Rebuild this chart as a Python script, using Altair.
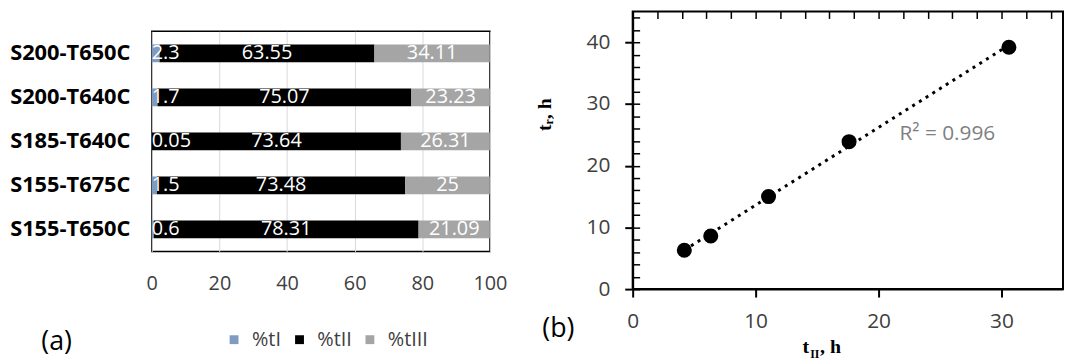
import altair as alt
import pandas as pd

FONT = "Open Sans"
SERIF = "Liberation Serif"

# ---------------- data (a) ----------------
samples = ["S200-T650C", "S200-T640C", "S185-T640C", "S155-T675C", "S155-T650C"]
pct_tI = [2.3, 1.7, 0.05, 1.5, 0.6]
pct_tII = [63.55, 75.07, 73.64, 73.48, 78.31]
pct_tIII = [34.11, 23.23, 26.31, 25, 21.09]
phases = ["%tI", "%tII", "%tIII"]
phase_colors = ["#7f9cc0", "#000000", "#a5a5a5"]
x_ticks_a = [0, 20, 40, 60, 80, 100]

# ---------------- data (b) ----------------
t_II = [4.2, 6.35, 11.05, 17.6, 30.6]
t_r = [6.3, 8.6, 15.0, 23.9, 39.2]
x_ticks_b = list(range(0, 35, 2))
y_ticks_b = list(range(0, 46, 2))
r2_text = ["R² = 0.996"]
panel_labels = ["(a)", "(b)"]

rows = []
for s, a, b, c in zip(samples, pct_tI, pct_tII, pct_tIII):
    for k, (p, v) in enumerate(zip(phases, (a, b, c))):
        rows.append(dict(sample=s, phase=p, value=v, order=k, label=f"{v:g}"))
df_a = pd.DataFrame(rows)

W_A, H_A = 341, 222
W_B, H_B = 434, 280

base_a = alt.Chart(df_a)
bars = base_a.mark_bar(size=18).encode(
    x=alt.X("value:Q", stack="zero", scale=alt.Scale(domain=[0, 100], nice=False),
            axis=alt.Axis(values=x_ticks_a, grid=True, gridColor="#d9d9d9", gridWidth=1,
                          ticks=False, tickSize=0, domain=False, labelFontSize=20,
                          labelFont=FONT, labelColor="#404040", labelPadding=22,
                          labelFlush=False, title=None)),
    y=alt.Y("sample:N", sort=samples,
            axis=alt.Axis(title=None, ticks=False, tickSize=0, domain=False, labelFont=FONT,
                          labelFontWeight="bold", labelFontSize=22, labelColor="#000000",
                          labelPadding=22, labelLimit=300)),
    color=alt.Color("phase:N", scale=alt.Scale(domain=phases, range=phase_colors),
                    legend=alt.Legend(title=None, orient="none", direction="horizontal",
                                      legendX=73, legendY=321, symbolType="square",
                                      symbolSize=80, labelFont=FONT, labelFontSize=20,
                                      labelColor="#404040", labelOffset=8, columnPadding=8)),
    order=alt.Order("order:Q"),
)

stacked = base_a.transform_stack(
    stack="value", groupby=["sample"], sort=[alt.SortField("order")], as_=["x0", "x1"]
).transform_calculate(mid="(datum.x0 + datum.x1) / 2")

lab_first = stacked.transform_filter("datum.order == 0").mark_text(
    align="left", baseline="middle", color="white", font=FONT, fontSize=20
).encode(x=alt.X("x0:Q"), y=alt.Y("sample:N", sort=samples), text="label:N")

lab_rest = stacked.transform_filter("datum.order > 0").mark_text(
    align="center", baseline="middle", color="white", font=FONT, fontSize=20
).encode(x=alt.X("mid:Q"), y=alt.Y("sample:N", sort=samples), text="label:N")

tag_a = alt.Chart(pd.DataFrame({"t": [panel_labels[0]]})).mark_text(
    align="center", baseline="middle", font=FONT, fontSize=27, color="#000000"
).encode(x=alt.value(-96), y=alt.value(313), text="t:N")

left = alt.layer(bars, lab_first, lab_rest, tag_a).properties(
    width=W_A, height=H_A,
    view=alt.ViewBackground(stroke="#000000", strokeWidth=1.5),
)

spacer = alt.Chart(pd.DataFrame({"t": [""]})).mark_text(opacity=0, fontSize=1).encode(
    text="t:N", x=alt.value(0), y=alt.value(0.5)
).properties(width=W_A, height=1, view=alt.ViewBackground(strokeOpacity=0))

left_col = alt.vconcat(spacer, left, spacing=18)

# ---------------- right chart ----------------
df_b = pd.DataFrame({"t_II": t_II, "t_r": t_r})
xs = alt.Scale(domain=[0, 35], nice=False)
ys = alt.Scale(domain=[0, 45], nice=False)

is_major = "datum.value % 10 === 0"
major_opacity = {"condition": {"test": is_major, "value": 1}, "value": 0}
major_font = {"condition": {"test": is_major, "value": 21}, "value": 1}


def frame_axis(orient, pad, vals):
    return alt.Axis(
        orient=orient, values=vals, tickSize=8, tickWidth=2, tickColor="#000000",
        tickOpacity=major_opacity,
        labelExpr=is_major + " ? datum.label : ''", labelOverlap=False,
        labelFlush=False, domainColor="#000000", domainWidth=2, labelFont=FONT,
        labelFontSize=major_font, labelColor="#404040", labelPadding=pad,
        grid=True, gridColor="#000000", gridWidth=1.5, gridOpacity=1,
        gridDash=[7, 3000], title=None,
    )


ax_x = frame_axis("bottom", 14, x_ticks_b)
ax_y = frame_axis("left", 15, y_ticks_b)

pts = alt.Chart(df_b).mark_circle(size=230, color="#000000", opacity=1).encode(
    x=alt.X("t_II:Q", scale=xs, axis=ax_x),
    y=alt.Y("t_r:Q", scale=ys, axis=ax_y),
)

trend = alt.Chart(df_b).transform_regression("t_II", "t_r").mark_line(
    color="#000000", strokeDash=[3, 5], strokeWidth=3
).encode(
    x=alt.X("t_II:Q", scale=xs, axis=ax_x),
    y=alt.Y("t_r:Q", scale=ys, axis=ax_y),
)

r2 = alt.Chart(pd.DataFrame({"t": r2_text})).mark_text(
    align="left", baseline="middle", font=FONT, fontSize=21, color="#7f7f7f"
).encode(x=alt.value(269), y=alt.value(124), text="t:N")

ytitle = alt.Chart(pd.DataFrame({"t": ["tᵣ, h"]})).mark_text(
    align="center", baseline="middle", font=SERIF, fontSize=20, fontWeight="bold",
    angle=270, color="#000000"
).encode(x=alt.value(-88), y=alt.value(104), text="t:N")

xt_main = alt.Chart(pd.DataFrame({"t": ["t"]})).mark_text(
    align="right", baseline="alphabetic", font=SERIF, fontSize=20, fontWeight="bold",
    color="#000000"
).encode(x=alt.value(178), y=alt.value(344), text="t:N")
xt_sub = alt.Chart(pd.DataFrame({"t": ["II"]})).mark_text(
    align="left", baseline="alphabetic", font=SERIF, fontSize=12, fontWeight="bold",
    color="#000000"
).encode(x=alt.value(179), y=alt.value(349), text="t:N")
xt_rest = alt.Chart(pd.DataFrame({"t": [", h"]})).mark_text(
    align="left", baseline="alphabetic", font=SERIF, fontSize=20, fontWeight="bold",
    color="#000000"
).encode(x=alt.value(189), y=alt.value(344), text="t:N")

tag_b = alt.Chart(pd.DataFrame({"t": [panel_labels[1]]})).mark_text(
    align="center", baseline="middle", font=FONT, fontSize=27, color="#000000"
).encode(x=alt.value(-75), y=alt.value(320), text="t:N")

right = alt.layer(trend, pts, r2, ytitle, xt_main, xt_sub, xt_rest, tag_b).properties(
    width=W_B, height=H_B,
    view=alt.ViewBackground(stroke="#000000", strokeWidth=2),
)

chart = alt.hconcat(left_col, right, spacing=27).properties(
    padding={"left": 0, "top": 1, "right": 0, "bottom": 0}
).configure(background="white")

chart.save("out.html", embed_options={"renderer": "svg", "actions": False})
